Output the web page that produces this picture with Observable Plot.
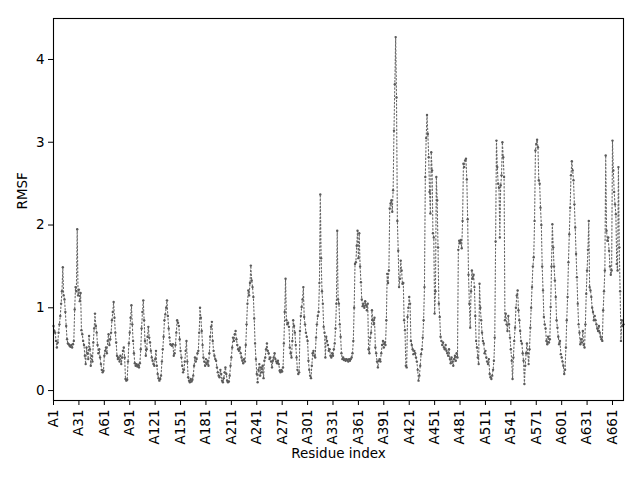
<!DOCTYPE html>
<html>
<head>
<meta charset="utf-8">
<script src="https://cdn.jsdelivr.net/npm/d3@7"></script>
<script src="https://cdn.jsdelivr.net/npm/@observablehq/plot@0.6"></script>
<style>
  html, body { margin: 0; padding: 0; background: #fff; }
</style>
</head>
<body>
<div id="chart"></div>
<script>
const rmsf = [
  0.78, 0.72, 0.70, 0.60, 0.52, 0.58, 0.70, 0.80, 0.90, 1.05,
  1.20, 1.49, 1.15, 1.10, 0.95, 0.78, 0.62, 0.57, 0.56, 0.54,
  0.53, 0.55, 0.52, 0.56, 0.60, 0.98, 1.25, 1.20, 1.95, 1.15,
  1.22, 1.08, 1.18, 0.73, 0.68, 0.60, 0.55, 0.42, 0.32, 0.52,
  0.45, 0.38, 0.66, 0.50, 0.30, 0.42, 0.35, 0.58, 0.75, 0.93,
  0.78, 0.70, 0.55, 0.45, 0.50, 0.40, 0.32, 0.25, 0.22, 0.24,
  0.42, 0.48, 0.52, 0.45, 0.60, 0.68, 0.55, 0.62, 0.70, 0.85,
  0.95, 1.07, 0.88, 0.70, 0.58, 0.42, 0.38, 0.40, 0.35, 0.42,
  0.32, 0.40, 0.48, 0.52, 0.40, 0.14, 0.12, 0.13, 0.35, 0.57,
  0.70, 0.88, 1.03, 0.80, 0.60, 0.45, 0.33, 0.30, 0.32, 0.29,
  0.31, 0.28, 0.33, 0.50, 0.75, 0.95, 1.09, 0.85, 0.60, 0.42,
  0.50, 0.65, 0.77, 0.64, 0.58, 0.48, 0.40, 0.36, 0.32, 0.30,
  0.38, 0.48, 0.30, 0.20, 0.15, 0.12, 0.14, 0.18, 0.35, 0.50,
  0.65, 0.85, 0.92, 1.00, 1.09, 0.90, 0.75, 0.64, 0.56, 0.55,
  0.54, 0.56, 0.42, 0.45, 0.55, 0.70, 0.85, 0.82, 0.78, 0.62,
  0.48, 0.40, 0.30, 0.22, 0.25, 0.35, 0.48, 0.60, 0.35, 0.16,
  0.12, 0.10, 0.14, 0.11, 0.13, 0.18, 0.30, 0.40, 0.35, 0.38,
  0.45, 0.48, 0.70, 1.00, 0.88, 0.72, 0.55, 0.40, 0.35, 0.30,
  0.38, 0.32, 0.36, 0.30, 0.45, 0.65, 0.77, 0.83, 0.60, 0.48,
  0.42, 0.38, 0.36, 0.28, 0.22, 0.18, 0.16, 0.25, 0.20, 0.12,
  0.10, 0.15, 0.22, 0.28, 0.20, 0.12, 0.10, 0.11, 0.18, 0.30,
  0.40, 0.52, 0.64, 0.60, 0.68, 0.72, 0.62, 0.55, 0.50, 0.48,
  0.52, 0.45, 0.40, 0.36, 0.33, 0.38, 0.35, 0.55, 0.80, 1.05,
  1.21, 1.15, 1.30, 1.51, 1.33, 1.25, 1.13, 0.87, 0.57, 0.38,
  0.20, 0.10, 0.25, 0.32, 0.18, 0.28, 0.22, 0.30, 0.15, 0.36,
  0.40, 0.50, 0.57, 0.48, 0.45, 0.38, 0.40, 0.35, 0.28, 0.36,
  0.40, 0.45, 0.38, 0.35, 0.33, 0.36, 0.32, 0.24, 0.22, 0.25,
  0.23, 0.28, 0.57, 0.95, 1.35, 0.85, 0.80, 0.82, 0.77, 0.52,
  0.45, 0.40, 0.60, 0.85, 0.78, 0.70, 0.55, 0.40, 0.25, 0.20,
  0.22, 0.72, 0.90, 1.01, 1.10, 1.25, 0.89, 0.80, 0.70, 0.65,
  0.60, 0.36, 0.25, 0.18, 0.15, 0.30, 0.45, 0.48, 0.42, 0.40,
  0.64, 0.80, 0.90, 0.95, 1.30, 2.37, 1.60, 1.20, 1.05, 0.77,
  0.70, 0.40, 0.65, 0.60, 0.55, 0.48, 0.50, 0.42, 0.40, 0.45,
  0.42, 0.50, 0.57, 0.75, 1.05, 1.93, 1.10, 1.05, 0.80, 0.65,
  0.45, 0.38, 0.40, 0.37, 0.38, 0.36, 0.38, 0.37, 0.35, 0.38,
  0.36, 0.38, 0.40, 0.45, 0.60, 1.00, 1.53, 1.55, 1.75, 1.93,
  1.60, 1.90, 1.50, 1.31, 1.10, 1.02, 1.05, 1.00, 1.08, 1.03,
  0.97, 1.05, 0.50, 0.45, 0.64, 0.70, 0.97, 0.85, 0.80, 0.88,
  0.52, 0.45, 0.35, 0.28, 0.36, 0.38, 0.35, 0.45, 0.55, 0.60,
  0.52, 0.58, 0.55, 0.85, 1.41, 1.30, 1.45, 2.20, 2.26, 2.30,
  2.16, 2.42, 3.14, 3.70, 4.27, 3.54, 2.05, 1.69, 1.25, 1.35,
  1.57, 1.45, 1.29, 1.30, 0.85, 0.73, 0.30, 0.28, 0.89, 1.00,
  1.13, 1.05, 0.60, 0.55, 0.50, 0.44, 0.48, 0.45, 0.40, 0.35,
  0.25, 0.12, 0.18, 0.30, 0.44, 0.50, 0.64, 0.85, 1.25, 2.58,
  3.05, 3.33, 3.10, 2.82, 2.40, 2.14, 2.88, 2.66, 1.90, 1.85,
  0.93, 1.20, 2.58, 2.30, 1.73, 1.05, 0.89, 0.65, 0.60, 0.55,
  0.58, 0.52, 0.50, 0.55, 0.48, 0.45, 0.42, 0.50, 0.38, 0.33,
  0.40, 0.35, 0.30, 0.38, 0.42, 0.36, 0.45, 0.40, 1.70, 1.81,
  1.78, 1.82, 1.72, 2.05, 2.74, 2.70, 2.78, 2.80, 2.55, 2.07,
  1.40, 1.05, 0.76, 1.20, 1.45, 1.35, 1.40, 1.25, 0.90, 0.60,
  0.52, 0.40, 0.32, 1.29, 1.00, 0.85, 0.70, 0.60, 0.57, 0.45,
  0.48, 0.40, 0.35, 0.32, 0.38, 0.20, 0.16, 0.14, 0.18, 0.25,
  0.36, 0.64, 1.80, 3.02, 2.70, 2.50, 2.45, 1.85, 2.48, 2.60,
  3.00, 2.82, 2.58, 0.85, 0.93, 0.80, 0.72, 0.90, 0.80, 0.64,
  0.50, 0.36, 0.14, 0.40, 0.60, 0.76, 1.00, 1.15, 1.21, 0.97,
  0.85, 0.72, 0.60, 0.57, 0.45, 0.36, 0.08, 0.30, 0.45, 0.57,
  0.45, 0.32, 0.50, 0.76, 1.00, 1.25, 1.50, 1.61, 2.05, 2.90,
  2.98, 3.03, 2.94, 2.54, 2.50, 2.21, 2.00, 1.50, 1.21, 0.89,
  0.80, 0.75, 0.60, 0.56, 0.65, 0.58, 0.62, 1.01, 1.50, 2.01,
  1.73, 1.50, 1.33, 1.13, 0.85, 0.76, 0.65, 0.56, 0.60, 0.44,
  0.40, 0.35, 0.30, 0.20, 0.25, 0.52, 0.85, 1.13, 1.55, 1.89,
  2.21, 2.60, 2.77, 2.66, 2.54, 2.25, 1.97, 1.65, 1.37, 1.05,
  0.80, 0.70, 0.56, 0.62, 0.58, 0.72, 0.55, 0.52, 0.80, 1.17,
  1.45, 1.70, 2.05, 1.25, 1.21, 1.13, 1.00, 0.95, 0.85, 0.90,
  0.85, 0.80, 0.75, 0.72, 0.78, 0.70, 0.65, 0.62, 0.60, 0.97,
  1.20, 1.45, 2.84, 1.93, 1.81, 1.85, 1.69, 1.50, 1.40, 1.45,
  3.02, 2.66, 2.40, 2.25, 2.13, 1.53, 1.45, 2.70, 1.73, 1.20,
  0.60, 0.85, 0.78, 0.80
];
const residues = rmsf.map((_, i) => i + 1);
const xTicks = d3.range(1, 662, 30);
const xTickLabels = xTicks.map(d => "A" + d);
const yTicks = [0, 1, 2, 3, 4];
const yTickLabels = ["0", "1", "2", "3", "4"];

const data = residues.map((r, i) => ({residue: r, rmsf: rmsf[i]}));
const color = "#666666";

const chart = Plot.plot({
  width: 640,
  height: 480,
  marginLeft: 53,
  marginRight: 17,
  marginTop: 18,
  marginBottom: 80,
  style: {fontFamily: "DejaVu Sans", fontSize: "13.5px", background: "#fff", color: "#000"},
  x: {domain: [1, residues.length]},
  y: {domain: [-0.12, 4.495]},
  marks: [
    Plot.line(data, {x: "residue", y: "rmsf", stroke: color, strokeWidth: 1.1, strokeDasharray: "1.4,2.2"}),
    Plot.dot(data, {x: "residue", y: "rmsf", r: 1.2, fill: "#5a5a5a", stroke: "none"}),
    Plot.frame({stroke: "black", strokeWidth: 1.1}),
    Plot.axisX({ticks: xTicks, tickFormat: (d) => xTickLabels[xTicks.indexOf(d)], tickRotate: -90, tickSize: 5, tickPadding: 4, label: null, fontSize: 13.5}),
    Plot.axisY({ticks: yTicks, tickFormat: (d) => yTickLabels[yTicks.indexOf(d)], tickSize: 5, tickPadding: 4, label: null, fontSize: 13.5}),
    Plot.text(["Residue index"], {frameAnchor: "bottom", dy: 57, fontSize: 13.5, fill: "black"}),
    Plot.text(["RMSF"], {frameAnchor: "left", dx: -31, rotate: -90, fontSize: 13.5, fill: "black"})
  ]
});
document.getElementById("chart").appendChild(chart);
</script>
</body>
</html>
